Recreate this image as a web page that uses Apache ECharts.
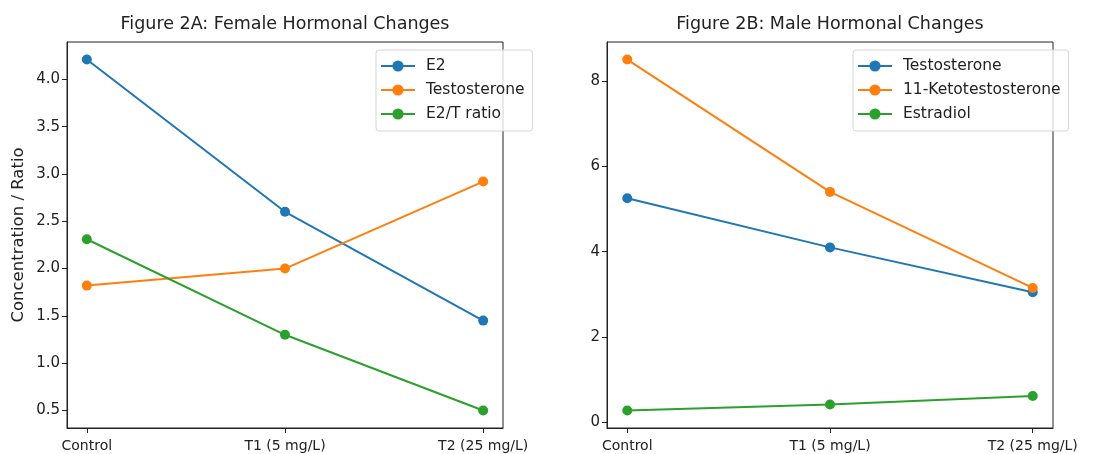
<!DOCTYPE html>
<html style='height: 100%'>
<head>
    <meta charset='utf-8'>
</head>
<body style='height: 100%; margin: 0; background: #fff'>
    <div id='container' style='width: 1106px; height: 454px'></div>
    <script src="https://cdn.jsdelivr.net/npm/echarts@6/dist/echarts.min.js"></script>
    <script type="text/javascript">
var groups = ['Control', 'T1 (5 mg/L)', 'T2 (25 mg/L)'];
// Figure 2A: female
var femaleE2 = [4.21, 2.6, 1.45];
var femaleT = [1.82, 2.0, 2.92];
var femaleRatio = [2.31, 1.3, 0.5];
var femaleTicks = [0.5, 1.0, 1.5, 2.0, 2.5, 3.0, 3.5, 4.0];
// Figure 2B: male
var maleT = [5.25, 4.1, 3.05];
var male11KT = [8.5, 5.4, 3.15];
var maleE2 = [0.28, 0.42, 0.62];
var maleTicks = [0, 2, 4, 6, 8];

var blue = '#1f77b4', orange = '#ff7f0e', green = '#2ca02c';
var font = 'DejaVu Sans';

function pts(arr) {
    return arr.map(function (v, i) { return [i, v]; });
}
// matplotlib style 5% margins
function pad(lists) {
    var all = [].concat.apply([], lists);
    var lo = Math.min.apply(null, all), hi = Math.max.apply(null, all);
    var m = (hi - lo) * 0.05;
    return [lo - m, hi + m];
}
var fRange = pad([femaleE2, femaleT, femaleRatio]);
var mRange = pad([maleT, male11KT, maleE2]);

function xAx(idx) {
    return {
        type: 'value', gridIndex: idx, min: -0.1, max: 2.1,
        splitLine: {show: false},
        axisLine: {show: true, onZero: false, lineStyle: {color: '#222', width: 1}},
        axisTick: {show: true, length: 5, lineStyle: {color: '#222'}, customValues: [0, 1, 2]},
        axisLabel: {
            customValues: [0, 1, 2], margin: 11,
            color: '#222', fontFamily: font, fontSize: 14,
            formatter: function (v) { return groups[Math.round(v)]; }
        }
    };
}
function yAx(idx, range, ticks, dec, name) {
    return {
        type: 'value', gridIndex: idx, min: range[0], max: range[1],
        name: name, nameLocation: 'middle', nameGap: 40,
        nameTextStyle: {color: '#222', fontFamily: font, fontSize: 16.5},
        splitLine: {show: false},
        axisLine: {show: true, onZero: false, lineStyle: {color: '#222', width: 1}},
        axisTick: {show: true, length: 5, lineStyle: {color: '#222'}, customValues: ticks},
        axisLabel: {
            customValues: ticks, margin: 7,
            color: '#222', fontFamily: font, fontSize: 15,
            formatter: function (v) { return v.toFixed(dec); }
        }
    };
}
function line(name, arr, color, xi, yi) {
    return {
        name: name, type: 'line', xAxisIndex: xi, yAxisIndex: yi,
        data: pts(arr), symbol: 'circle', symbolSize: 10,
        lineStyle: {color: color, width: 2},
        itemStyle: {color: color},
        animation: false
    };
}
function legend(names, left) {
    return {
        data: names, orient: 'vertical', left: left, top: 50,
        itemWidth: 34, itemHeight: 14, itemGap: 8,
        padding: [8, 8, 9, 4],
        backgroundColor: 'rgba(255,255,255,0.8)',
        borderColor: '#d6d6d6', borderWidth: 1, borderRadius: 3,
        textStyle: {color: '#222', fontFamily: font, fontSize: 15.5, padding: [0, 0, 0, 6]}
    };
}

var myChart = echarts.init(document.getElementById('container'));
var option = {
    backgroundColor: '#fff',
    graphic: [
        {type: 'text', x: 285, y: 24, style: {text: 'Figure 2A: Female Hormonal Changes', font: '17.5px "DejaVu Sans"', fill: '#222', textAlign: 'center', textVerticalAlign: 'middle'}},
        {type: 'text', x: 830, y: 24, style: {text: 'Figure 2B: Male Hormonal Changes', font: '17.5px "DejaVu Sans"', fill: '#222', textAlign: 'center', textVerticalAlign: 'middle'}}
    ],
    grid: [
        {left: 67, right: 603, top: 42, bottom: 26, show: true, borderColor: '#222', borderWidth: 1},
        {left: 607, right: 53, top: 42, bottom: 26, show: true, borderColor: '#222', borderWidth: 1}
    ],
    legend: [
        legend(['E2', 'Testosterone', 'E2/T ratio'], 376),
        legend(['Testosterone ', '11-Ketotestosterone', 'Estradiol'], 853)
    ],
    xAxis: [xAx(0), xAx(1)],
    yAxis: [
        yAx(0, fRange, femaleTicks, 1, 'Concentration / Ratio'),
        yAx(1, mRange, maleTicks, 0, '')
    ],
    series: [
        line('E2', femaleE2, blue, 0, 0),
        line('Testosterone', femaleT, orange, 0, 0),
        line('E2/T ratio', femaleRatio, green, 0, 0),
        line('Testosterone ', maleT, blue, 1, 1),
        line('11-Ketotestosterone', male11KT, orange, 1, 1),
        line('Estradiol', maleE2, green, 1, 1)
    ]
};
myChart.setOption(option);
    </script>
</body>
</html>
